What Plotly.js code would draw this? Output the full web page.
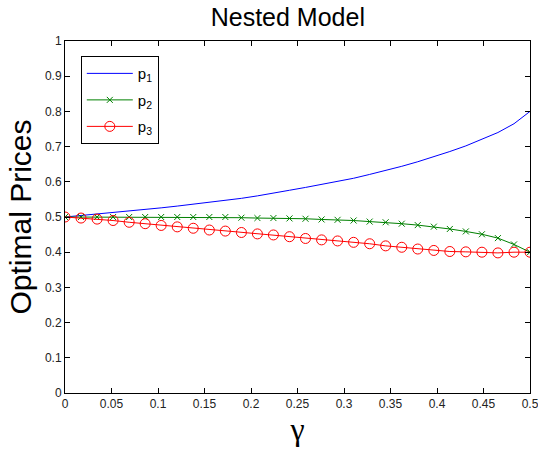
<!DOCTYPE html>
<html>
<head>
<meta charset="utf-8">
<script src="https://cdn.plot.ly/plotly-3.0.1.min.js"></script>
<style>html,body{margin:0;padding:0;background:#fff;}#chart{width:538px;height:450px;}</style>
</head>
<body>
<div id="chart"></div>
<script>
var gamma = [0, 0.0172, 0.0345, 0.0517, 0.0690, 0.0862, 0.1034, 0.1207, 0.1379, 0.1552,
             0.1724, 0.1897, 0.2069, 0.2241, 0.2414, 0.2586, 0.2759, 0.2931, 0.3103, 0.3276,
             0.3448, 0.3621, 0.3793, 0.3966, 0.4138, 0.4310, 0.4483, 0.4655, 0.4828, 0.5];
var p1 = [0.500, 0.504, 0.508, 0.512, 0.516, 0.521, 0.526, 0.531, 0.536, 0.541,
          0.547, 0.553, 0.560, 0.567, 0.576, 0.584, 0.592, 0.601, 0.610, 0.621,
          0.632, 0.644, 0.657, 0.671, 0.686, 0.702, 0.720, 0.740, 0.765, 0.800];
var p2 = [0.500, 0.500, 0.500, 0.500, 0.500, 0.500, 0.500, 0.500, 0.500, 0.500,
          0.500, 0.498, 0.497, 0.497, 0.496, 0.495, 0.493, 0.492, 0.490, 0.487,
          0.485, 0.481, 0.477, 0.4725, 0.466, 0.459, 0.451, 0.440, 0.422, 0.400];
var p3 = [0.500, 0.497, 0.494, 0.490, 0.485, 0.481, 0.476, 0.472, 0.468, 0.463,
          0.460, 0.456, 0.452, 0.449, 0.444, 0.439, 0.435, 0.432, 0.428, 0.424,
          0.418, 0.414, 0.409, 0.405, 0.402, 0.401, 0.400, 0.398, 0.400, 0.400];
var xTicks = [0, 0.05, 0.1, 0.15, 0.2, 0.25, 0.3, 0.35, 0.4, 0.45, 0.5];
var xTickText = ['0', '0.05', '0.1', '0.15', '0.2', '0.25', '0.3', '0.35', '0.4', '0.45', '0.5'];
var yTicks = [0, 0.1, 0.2, 0.3, 0.4, 0.5, 0.6, 0.7, 0.8, 0.9, 1];
var yTickText = ['0', '0.1', '0.2', '0.3', '0.4', '0.5', '0.6', '0.7', '0.8', '0.9', '1'];
var seriesNames = ['p<sub>1</sub>', 'p<sub>2</sub>', 'p<sub>3</sub>'];

var font = 'Liberation Sans, Arial, sans-serif';
var traces = [
  {x: gamma, y: p1, name: seriesNames[0], legendgroup: 'g1', mode: 'lines', type: 'scatter',
   line: {color: '#0000ff', width: 1}},
  {x: gamma, y: p2, name: seriesNames[1], legendgroup: 'g2', mode: 'lines+markers', type: 'scatter',
   line: {color: '#008000', width: 1},
   marker: {symbol: 'x-thin-open', size: 6, color: '#008000', line: {color: '#008000', width: 1}}},
  {x: gamma, y: p3, name: seriesNames[2], legendgroup: 'g3', mode: 'lines+markers', type: 'scatter',
   line: {color: '#ff0000', width: 1},
   marker: {symbol: 'circle-open', size: 10, color: '#ff0000', line: {color: '#ff0000', width: 1}}}
];
var axisCommon = {
  showline: true, linecolor: '#000', linewidth: 1, mirror: 'ticks',
  ticks: 'inside', ticklen: 5, tickcolor: '#000', tickwidth: 1,
  showgrid: false, zeroline: false, ticklabeloverflow: 'allow',
  tickfont: {family: font, size: 12, color: '#222'}
};
var layout = {
  width: 538, height: 450,
  margin: {l: 65, r: 8, t: 41, b: 57},
  paper_bgcolor: '#fff', plot_bgcolor: '#fff',
  title: {text: 'Nested Model', font: {family: font, size: 25, color: '#000'},
          x: 0.535, xanchor: 'center', y: 0.961, yanchor: 'middle'},
  xaxis: Object.assign({}, axisCommon, {
    range: [0, 0.5], tickvals: xTicks, ticktext: xTickText,
    title: {text: 'γ', font: {family: 'Liberation Serif, Times New Roman, serif', size: 32, color: '#000'}, standoff: 6}
  }),
  yaxis: Object.assign({}, axisCommon, {
    range: [0, 1], tickvals: yTicks, ticktext: yTickText,
    title: {text: 'Optimal Prices', font: {family: font, size: 30, color: '#000'}, standoff: 4}
  }),
  showlegend: true,
  legend: {x: 0.034, y: 0.957, xanchor: 'left', yanchor: 'top',
           bordercolor: '#000', borderwidth: 1, bgcolor: '#fff', tracegroupgap: 4,
           font: {family: font, size: 15, color: '#000'}, itemwidth: 46}
};
Plotly.newPlot('chart', traces, layout, {displayModeBar: false, staticPlot: true});
</script>
</body>
</html>
